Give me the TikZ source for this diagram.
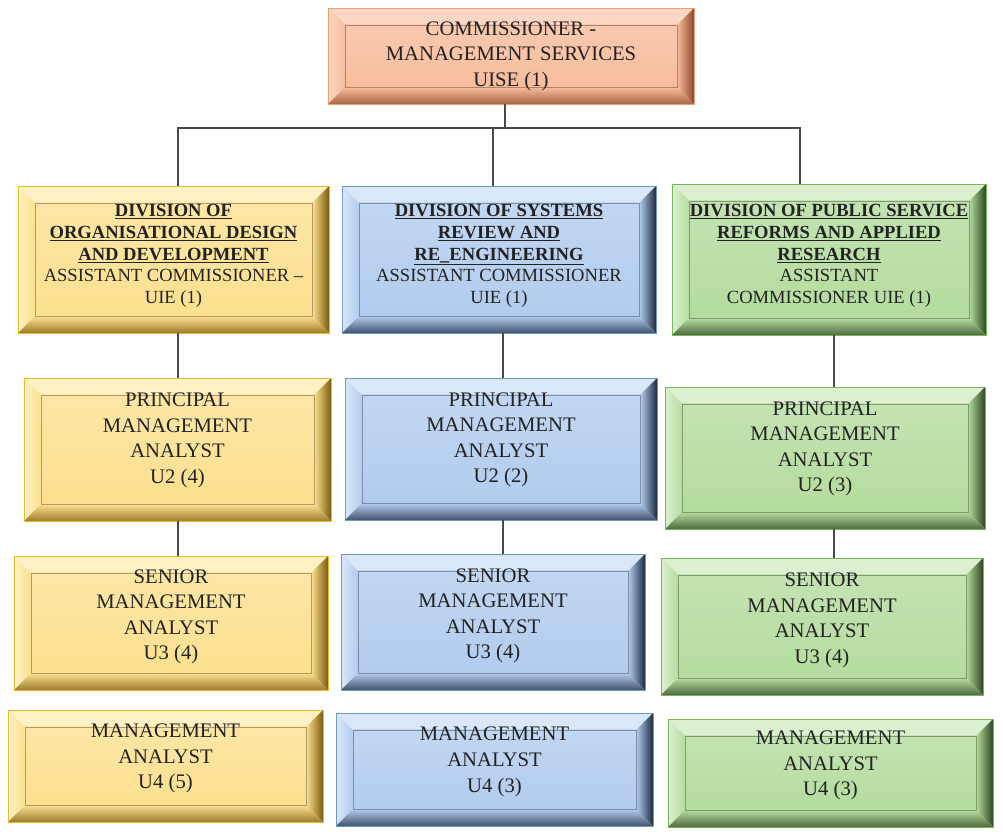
\documentclass[tikz,border=0pt]{standalone}
\usepackage{fontspec}
\setmainfont{Liberation Serif}
\usetikzlibrary{positioning}
\definecolor{inkgray}{HTML}{222222}
\definecolor{wiregray}{HTML}{4A4A4A}
% bevel colours: face, highlight, shadow, edge
\definecolor{salface}{HTML}{F8BC9C}
\definecolor{salhi}{HTML}{FCD8C4}
\definecolor{sallo}{HTML}{8A4A2C}
\definecolor{saledge}{HTML}{EE9E78}
\definecolor{ambface}{HTML}{FDE08F}
\definecolor{ambhi}{HTML}{FFF1C4}
\definecolor{amblo}{HTML}{7A5C0C}
\definecolor{ambedge}{HTML}{EDB92C}
\definecolor{skyface}{HTML}{B2CCEE}
\definecolor{skyhi}{HTML}{DAE7F8}
\definecolor{skylo}{HTML}{1C2A40}
\definecolor{skyedge}{HTML}{6C98CE}
\definecolor{leafface}{HTML}{B4DC9E}
\definecolor{leafhi}{HTML}{DCF0D0}
\definecolor{leaflo}{HTML}{2C4620}
\definecolor{leafedge}{HTML}{78B45A}
\newcommand\divfont{\fontsize{13.2}{15.5}\selectfont}
\newcommand\postfont{\fontsize{14.7}{18.2}\selectfont}
\newcommand\divhead[1]{\underline{\textbf{#1}}}

\begin{document}
\begin{tikzpicture}[x=0.025cm,y=-0.025cm,
    bevel/.style={draw=#1edge,line width=0.6pt,fill=#1face,inner sep=0pt,outer sep=0pt,
      align=center,text=inkgray,font=\postfont,
      path picture={
        \coordinate (nw) at (path picture bounding box.north west);
        \coordinate (ne) at (path picture bounding box.north east);
        \coordinate (sw) at (path picture bounding box.south west);
        \coordinate (se) at (path picture bounding box.south east);
        \coordinate (inw) at ([xshift=0.42cm,yshift=-0.42cm]nw);
        \coordinate (ine) at ([xshift=-0.42cm,yshift=-0.42cm]ne);
        \coordinate (isw) at ([xshift=0.42cm,yshift=0.42cm]sw);
        \coordinate (ise) at ([xshift=-0.42cm,yshift=0.42cm]se);
        \fill[#1hi] (nw) -- (ne) -- (ine) -- (inw) -- cycle;
        \shade[left color=#1hi,right color=#1face] (nw) -- (inw) -- (isw) -- (sw) -- cycle;
        \shade[left color=#1face,right color=#1lo] (ne) -- (se) -- (ise) -- (ine) -- cycle;
        \shade[top color=#1face,bottom color=#1lo!75!#1face] (sw) -- (isw) -- (ise) -- (se) -- cycle;
        \shade[top color=#1face!80!white,bottom color=#1face] (inw) rectangle (ise);
        \draw[#1face!70!black,line width=0.4pt] (inw) rectangle (ise);
      }},
    boxsize/.style 2 args={minimum width=#1*0.025cm,minimum height=#2*0.025cm},
    lift/.style={text depth=#1},
    bus/.style={draw=wiregray,line width=1.5pt},
    link/.style={draw=wiregray,line width=1pt}]
  \useasboundingbox (0,0) rectangle (1003,836);

  % head of the service
  \node[bevel=sal,boxsize={366}{96}] (top) at (511,56) {COMMISSIONER -\\MANAGEMENT SERVICES\\UISE (1)};

  % the three divisions
  \node[bevel=amb,boxsize={311}{147},font=\divfont,lift=8pt] (divA) at (173.5,259.5) {\divhead{DIVISION OF}\\\divhead{ORGANISATIONAL DESIGN}\\\divhead{AND DEVELOPMENT}\\ASSISTANT COMMISSIONER –\\UIE (1)};
  \node[bevel=sky,boxsize={314}{147},font=\divfont,lift=8pt] (divB) at (499,259.5) {\divhead{DIVISION OF SYSTEMS}\\\divhead{REVIEW AND}\\\divhead{RE\_ENGINEERING}\\ASSISTANT COMMISSIONER\\UIE (1)};
  \node[bevel=leaf,boxsize={314}{151},font=\divfont,lift=8pt] (divC) at (829,259.5) {\divhead{DIVISION OF PUBLIC SERVICE}\\\divhead{REFORMS AND APPLIED}\\\divhead{RESEARCH}\\ASSISTANT\\COMMISSIONER UIE (1)};

  % principal analysts
  \node[bevel=amb,boxsize={307}{143},lift=16pt] (pmaA) at (177.5,449.5) {PRINCIPAL\\MANAGEMENT\\ANALYST\\U2 (4)};
  \node[bevel=sky,boxsize={312}{142},lift=16pt] (pmaB) at (501,449) {PRINCIPAL\\MANAGEMENT\\ANALYST\\U2 (2)};
  \node[bevel=leaf,boxsize={320}{142},lift=16pt] (pmaC) at (825,458) {PRINCIPAL\\MANAGEMENT\\ANALYST\\U2 (3)};

  % senior analysts
  \node[bevel=amb,boxsize={314}{134},lift=12pt] (smaA) at (171,623) {SENIOR\\MANAGEMENT\\ANALYST\\U3 (4)};
  \node[bevel=sky,boxsize={304}{136},lift=12pt] (smaB) at (493,622) {SENIOR\\MANAGEMENT\\ANALYST\\U3 (4)};
  \node[bevel=leaf,boxsize={322}{137},lift=12pt] (smaC) at (822,626.5) {SENIOR\\MANAGEMENT\\ANALYST\\U3 (4)};

  % analysts
  \node[bevel=amb,boxsize={315}{112},lift=14pt] (maA) at (165.5,766) {MANAGEMENT\\ANALYST\\U4 (5)};
  \node[bevel=sky,boxsize={317}{113},lift=14pt] (maB) at (494.5,769.5) {MANAGEMENT\\ANALYST\\U4 (3)};
  \node[bevel=leaf,boxsize={325}{108},lift=14pt] (maC) at (830.5,773) {MANAGEMENT\\ANALYST\\U4 (3)};

  % wiring
  \coordinate (stem) at (505,128);
  \coordinate (busA) at (178,128);
  \coordinate (busB) at (493,128);
  \coordinate (busC) at (800,128);
  \coordinate (colA) at (178,0);
  \coordinate (colB) at (503,0);
  \coordinate (colC) at (834,0);
  \draw[bus] (top.south -| stem) -- (stem);
  \draw[bus] (divA.north -| busA) -- (busA) -- (busC) -- (divC.north -| busC);
  \draw[bus] (busB) -- (divB.north -| busB);
  \draw[link] (divA.south -| colA) -- (pmaA.north -| colA);
  \draw[link] (pmaA.south -| colA) -- (smaA.north -| colA);
  \draw[link] (divB.south -| colB) -- (pmaB.north -| colB);
  \draw[link] (pmaB.south -| colB) -- (smaB.north -| colB);
  \draw[link] (divC.south -| colC) -- (pmaC.north -| colC);
  \draw[link] (pmaC.south -| colC) -- (smaC.north -| colC);
\end{tikzpicture}
\end{document}
